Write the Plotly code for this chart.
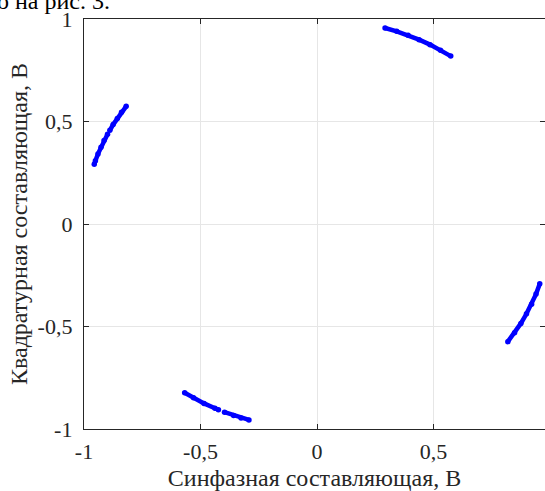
import plotly.graph_objects as go

# Constellation points (in-phase I, quadrature Q); None splits segments
arc_left_i = [-0.819, -0.839, -0.857, -0.875, -0.889, None, -0.899, -0.914, -0.927, -0.940, -0.951, -0.956]
arc_left_q = [0.574, 0.545, 0.515, 0.485, 0.457, None, 0.438, 0.407, 0.375, 0.342, 0.309, 0.292]

arc_top_i = [0.574, 0.530, 0.485, 0.438, 0.391, 0.342, 0.292]
arc_top_q = [0.819, 0.848, 0.875, 0.899, 0.921, 0.940, 0.956]

arc_right_i = [0.819, 0.848, 0.875, 0.899, 0.921, 0.940, 0.956]
arc_right_q = [-0.574, -0.530, -0.485, -0.438, -0.391, -0.342, -0.292]

arc_bottom_i = [-0.568, -0.530, -0.485, -0.438, -0.423, None, -0.397, -0.358, -0.326, -0.292]
arc_bottom_q = [-0.823, -0.848, -0.875, -0.899, -0.906, None, -0.918, -0.934, -0.946, -0.956]

tick_vals = [-1, -0.5, 0, 0.5, 1]
tick_text = ["-1", "-0,5", "0", "0,5", "1"]

x_title = "Синфазная составляющая, В"
y_title = "Квадратурная составляющая, В"
top_text = "о на рис. 3."

fig = go.Figure()
for xs, ys in [(arc_left_i, arc_left_q), (arc_top_i, arc_top_q),
               (arc_right_i, arc_right_q), (arc_bottom_i, arc_bottom_q)]:
    fig.add_trace(go.Scatter(
        x=xs, y=ys, mode="lines+markers",
        line=dict(color="#0000ff", width=4.5),
        marker=dict(color="#0000ff", size=5.5),
        connectgaps=False, showlegend=False, hoverinfo="skip",
        cliponaxis=False,
    ))

font_family = "Liberation Serif"
axis_common = dict(
    tickvals=tick_vals, ticktext=tick_text,
    showgrid=True, gridcolor="#e6e6e6", gridwidth=1,
    zeroline=False,
    showline=True, linecolor="#262626", linewidth=1.3,
    ticks="inside", ticklen=5, tickcolor="#262626", tickwidth=1,
    mirror="ticks",
    tickfont=dict(family=font_family, size=22, color="#262626"),
    title_font=dict(family=font_family, size=24, color="#262626"),
)

fig.update_layout(
    width=545, height=491,
    margin=dict(l=84, r=0, t=19, b=62, pad=0),
    plot_bgcolor="white", paper_bgcolor="white",
    xaxis=dict(range=[-1, (545 - 84) / 233 - 1], title=dict(text=x_title, standoff=7),
               ticklabelstandoff=2, **axis_common),
    yaxis=dict(range=[-1, 1], title=dict(text=y_title, standoff=3),
               ticklabelstandoff=6, **axis_common),
    annotations=[dict(
        text=top_text, xref="paper", yref="paper", x=0, y=1,
        xshift=-84 - 5, yshift=19 + 14, xanchor="left", yanchor="top",
        showarrow=False, font=dict(family=font_family, size=24, color="#000000"),
    )],
)

fig.write_html("out.html")
